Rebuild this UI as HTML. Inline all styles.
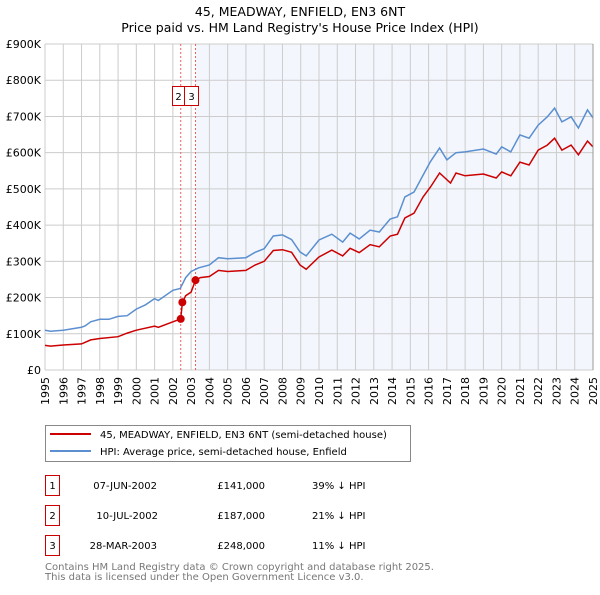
<!DOCTYPE html>
<html><head><meta charset="utf-8"><style>
body{margin:0;background:#fff;font-family:"Liberation Sans","DejaVu Sans",sans-serif;}
svg text{font-family:"DejaVu Sans","Liberation Sans",sans-serif;}
</style></head><body>
<svg id="chart" width="600" height="590" viewBox="0 0 600 590" xmlns="http://www.w3.org/2000/svg">
<text x="300" y="16" font-size="12.5" text-anchor="middle">45, MEADWAY, ENFIELD, EN3 6NT</text>
<text x="300" y="32" font-size="12.5" text-anchor="middle">Price paid vs. HM Land Registry's House Price Index (HPI)</text>
<g id="plot"></g>
<g>
<rect x="45.5" y="425.5" width="365" height="36" fill="#fff" stroke="#888"/>
<line x1="50" y1="434" x2="91" y2="434" stroke="#cc0000" stroke-width="2"/>
<text x="100" y="438" font-size="10">45, MEADWAY, ENFIELD, EN3 6NT (semi-detached house)</text>
<line x1="50" y1="451" x2="91" y2="451" stroke="#5b8fd0" stroke-width="2"/>
<text x="100" y="455" font-size="10">HPI: Average price, semi-detached house, Enfield</text>
</g>
<g font-size="10">
<rect x="45.5" y="475.5" width="14" height="20" fill="#fff" stroke="#cc0000"/><text x="52.5" y="489" text-anchor="middle">1</text>
<text x="157" y="489" text-anchor="end">07-JUN-2002</text><text x="265" y="489" text-anchor="end">£141,000</text><text x="312" y="489">39% ↓ HPI</text>
<rect x="45.5" y="505.5" width="14" height="20" fill="#fff" stroke="#cc0000"/><text x="52.5" y="519" text-anchor="middle">2</text>
<text x="158" y="519" text-anchor="end">10-JUL-2002</text><text x="265" y="519" text-anchor="end">£187,000</text><text x="312" y="519">21% ↓ HPI</text>
<rect x="45.5" y="535.5" width="14" height="20" fill="#fff" stroke="#cc0000"/><text x="52.5" y="549" text-anchor="middle">3</text>
<text x="157" y="549" text-anchor="end">28-MAR-2003</text><text x="265" y="549" text-anchor="end">£248,000</text><text x="312" y="549">11% ↓ HPI</text>
</g>
<text x="45" y="570" font-size="10" fill="#777">Contains HM Land Registry data © Crown copyright and database right 2025.</text>
<text x="45" y="580" font-size="10" fill="#777">This data is licensed under the Open Government Licence v3.0.</text>
</svg>
<script>
const yTicks=[0,100,200,300,400,500,600,700,800,900];
const yTickLabels=["£0","£100K","£200K","£300K","£400K","£500K","£600K","£700K","£800K","£900K"];
const xYears=[1995,1996,1997,1998,1999,2000,2001,2002,2003,2004,2005,2006,2007,2008,2009,2010,2011,2012,2013,2014,2015,2016,2017,2018,2019,2020,2021,2022,2023,2024,2025];
const hpiT=[1995,1995.3,1996,1997,1997.2,1997.5,1998,1998.5,1999,1999.5,2000,2000.5,2001,2001.2,2002,2002.4,2002.7,2003,2003.4,2004,2004.5,2005,2006,2006.5,2007,2007.5,2008,2008.5,2008.96,2009.3,2010,2010.7,2011.3,2011.7,2012.2,2012.8,2013.3,2013.9,2014.3,2014.7,2015.2,2015.7,2016.1,2016.6,2017,2017.5,2018,2019,2019.7,2020,2020.5,2021,2021.5,2022,2022.5,2022.9,2023.3,2023.8,2024.2,2024.7,2025];
const hpiV=[110,107,110,118,122,133,140,140,148,150,168,180,197,192,220,225,255,272,282,290,310,307,310,325,335,370,373,360,326,315,359,375,353,378,362,386,381,417,423,478,491,538,575,613,580,600,602,610,596,616,602,649,640,676,699,723,685,699,668,718,696];
const ppT=[1995,1995.3,1996,1997,1997.5,1998,1999,1999.5,2000,2001,2001.2,2002,2002.43,2002.52,2002.7,2003,2003.24,2003.5,2004,2004.5,2005,2006,2006.5,2007,2007.5,2008,2008.5,2008.96,2009.3,2010,2010.7,2011.3,2011.7,2012.2,2012.8,2013.3,2013.9,2014.3,2014.7,2015.2,2015.7,2016.1,2016.6,2017.2,2017.5,2018,2019,2019.7,2020,2020.5,2021,2021.5,2022,2022.5,2022.9,2023.3,2023.8,2024.2,2024.7,2025];
const ppV=[68,66,69,72,83,87,92,102,110,121,118,133,141,187,205,215,248,255,258,275,272,275,290,300,330,332,325,290,278,312,331,315,336,324,346,340,370,375,420,433,478,505,544,516,544,536,541,530,547,536,574,566,607,621,640,607,621,594,632,616];
const saleT=[2002.43,2002.52,2003.24];
const saleV=[141,187,248];
const saleLabels=["1","2","3"];
const NS="http://www.w3.org/2000/svg";
const L=45,R=593,T=44,B=370;
const xs=t=>L+(t-1995)/30*(R-L);
const ys=v=>B-v/900*(B-T);
const g=document.getElementById('plot');
function mk(tag,attrs,parent){const e=document.createElementNS(NS,tag);for(const k in attrs)e.setAttribute(k,attrs[k]);(parent||g).appendChild(e);return e;}
let e=mk('rect',{x:L,y:T,width:R-L,height:B-T,fill:'#fff'});


e=mk('rect',{x:xs(saleT[2]),y:T,width:R-xs(saleT[2]),height:B-T,fill:'#eef3fc',opacity:0.7});


yTicks.forEach((v,i)=>{
 let l=mk('line',{x1:L,x2:R,y1:ys(v),y2:ys(v),stroke:'#ccc'});
 
 
 let t=mk('text',{x:L-4,y:ys(v)+4,'font-size':11,'text-anchor':'end'});t.textContent=yTickLabels[i];
 
 
});
xYears.forEach(yr=>{
 let l=mk('line',{x1:xs(yr),x2:xs(yr),y1:T,y2:B,stroke:'#ccc'});
 
 
 let t=mk('text',{x:0,y:0,'font-size':11,'text-anchor':'end',transform:`translate(${xs(yr)+4},${B+7}) rotate(-90)`});t.textContent=yr;
 
 
});
[saleT[0],saleT[2]].forEach(t=>{
 let l=mk('line',{x1:xs(t),x2:xs(t),y1:T,y2:B,stroke:'#f06060','stroke-dasharray':'2,2'});
 
 
});
function path(T_,V_,col,name){let d=T_.map((t,i)=>(i?'L':'M')+xs(t).toFixed(1)+','+ys(V_[i]).toFixed(1)).join('');
 let p=mk('path',{d:d,fill:'none',stroke:col,'stroke-width':1.5});
 
 }
path(hpiT,hpiV,'#5b8fd0','hpi-line');
path(ppT,ppV,'#cc0000','price-paid-line');
saleT.forEach((t,i)=>{
 let c=mk('circle',{cx:xs(t),cy:ys(saleV[i]),r:4,fill:'#cc0000'});
 
 
});
[[1,172],[2,184]].forEach(([i,x])=>{
 let r=mk('rect',{x:x+0.5,y:86.5,width:i==1?12:14,height:19,fill:'#fff',stroke:'#cc0000'});
 
 
 let tx=mk('text',{x:x+(i==1?6.5:7.5),y:100,'font-size':10,'text-anchor':'middle'});tx.textContent=saleLabels[i];
 
 
});
let rb=mk('line',{x1:R,x2:R,y1:T,y2:B,stroke:'#999'});


</script>
</body></html>
